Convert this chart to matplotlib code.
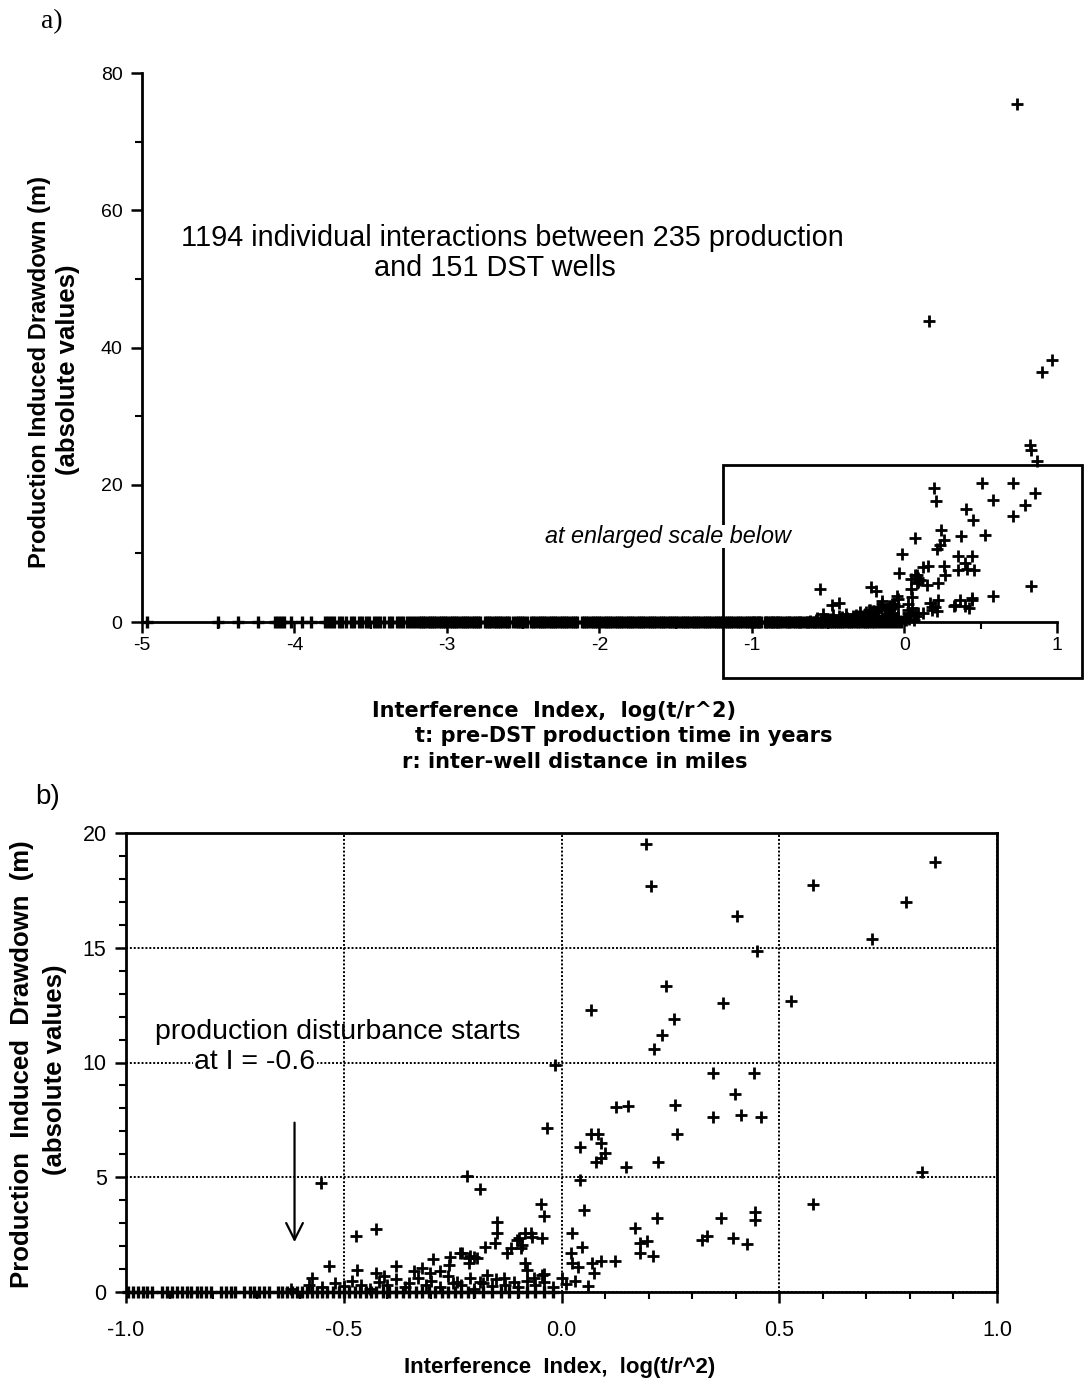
import numpy as np
import matplotlib
matplotlib.use('Agg')
import matplotlib.pyplot as plt
from matplotlib.patches import Rectangle
from matplotlib.ticker import MultipleLocator

# interactions with no measurable drawdown (drawdown = 0)
zero_index = [
    # sparse tail
    -4.97, -4.50, -4.37, -4.24, -4.13, -4.11, -4.09, -4.07, -4.02, -3.95,
    -3.89, -3.80, -3.78, -3.76, -3.74, -3.71, -3.69, -3.66, -3.63, -3.61,
    -3.58, -3.56, -3.53, -3.51, -3.48, -3.46, -3.44, -3.41, -3.38, -3.36,
    -3.33, -3.31, -3.29, -3.26, -3.24, -3.22,
    # dense band
    -3.200, -3.186, -3.171, -3.158, -3.142, -3.127, -3.113, -3.098, -3.084,
    -3.069, -3.055, -3.041, -3.026, -3.012, -2.997, -2.983, -2.968, -2.954,
    -2.940, -2.925, -2.911, -2.896, -2.882, -2.867, -2.853, -2.839, -2.824,
    -2.810, -2.795, -2.781, -2.752, -2.738, -2.723, -2.709, -2.694, -2.680,
    -2.665, -2.651, -2.637, -2.622, -2.608, -2.593, -2.564, -2.550, -2.536,
    -2.521, -2.507, -2.492, -2.478, -2.449, -2.435, -2.420, -2.406, -2.391,
    -2.377, -2.362, -2.348, -2.334, -2.319, -2.305, -2.290, -2.276, -2.261,
    -2.247, -2.233, -2.218, -2.204, -2.189, -2.175, -2.160, -2.146, -2.117,
    -2.103, -2.088, -2.074, -2.059, -2.045, -2.031, -2.016, -2.002, -1.987,
    -1.973, -1.958, -1.944, -1.930, -1.915, -1.901, -1.886, -1.872, -1.857,
    -1.843, -1.829, -1.814, -1.800, -1.785, -1.771, -1.756, -1.742, -1.728,
    -1.713, -1.699, -1.684, -1.670, -1.655, -1.641, -1.627, -1.612, -1.598,
    -1.583, -1.569, -1.554, -1.540, -1.526, -1.511, -1.497, -1.482, -1.468,
    -1.453, -1.439, -1.425, -1.410, -1.396, -1.381, -1.367, -1.352, -1.338,
    -1.324, -1.309, -1.295, -1.280, -1.266, -1.251, -1.237, -1.223, -1.208,
    -1.194, -1.179, -1.165, -1.150, -1.136, -1.122, -1.107, -1.093, -1.078,
    -1.064, -1.049, -1.035, -1.021, -1.006,
    # range shown in panel b
    -0.996, -0.985, -0.972, -0.962, -0.951, -0.940, -0.918, -0.906, -0.895,
    -0.884, -0.872, -0.861, -0.850, -0.838, -0.827, -0.816, -0.804, -0.782,
    -0.771, -0.760, -0.749, -0.728, -0.716, -0.705, -0.694, -0.682, -0.671,
    -0.652, -0.641, -0.630, -0.618, -0.607, -0.596, -0.585, -0.573, -0.562,
    -0.550, -0.538, -0.525, -0.512, -0.500, -0.488, -0.475, -0.462, -0.450,
    -0.437, -0.425, -0.410, -0.395, -0.380, -0.365, -0.350, -0.335, -0.320,
    -0.305, -0.290, -0.275, -0.260, -0.245, -0.230, -0.215, -0.200, -0.180,
    -0.160, -0.140, -0.120, -0.100, -0.080, -0.060, -0.040, -0.020,
]

# small drawdowns just above zero
low_index = [-0.62, -0.58, -0.55, -0.52, -0.50, -0.48, -0.46, -0.44, -0.42,
             -0.40, -0.38, -0.36, -0.35, -0.33, -0.31, -0.30, -0.28, -0.26,
             -0.25, -0.23, -0.21, -0.20, -0.18, -0.16, -0.15, -0.13, -0.11,
             -0.10, -0.08, -0.06, -0.04, -0.02, 0.01, 0.03, 0.06]
low_drawdown = [0.15, 0.30, 0.20, 0.40, 0.25, 0.50, 0.30, 0.15, 0.45,
                0.30, 0.55, 0.20, 0.40, 0.60, 0.30, 0.50, 0.20, 0.70,
                0.40, 0.30, 0.60, 0.15, 0.40, 0.25, 0.55, 0.30, 0.45,
                0.20, 0.50, 0.30, 0.45, 0.20, 0.35, 0.50, 0.25]

# interactions with clear drawdown (0 - 20 m)
scatter_index = [
    0.194, 0.206, 0.402, 0.449, 0.578, 0.857, 0.792, 0.714,
    0.241, 0.067, 0.371, 0.526, 0.258, 0.231, 0.213, -0.016,
    0.348, 0.442, 0.398, 0.348, 0.413, 0.459, 0.124, 0.152, 0.260,
    0.266, -0.033, 0.042, 0.068, 0.083, 0.090, 0.099, 0.080, 0.090,
    0.147, 0.222, 0.827, 0.578, 0.051, 0.220, 0.367, 0.445, 0.445,
    0.168, 0.197, 0.181, 0.180, 0.210, 0.323, 0.333, 0.394, 0.426,
    0.023, 0.046, 0.021, 0.025, 0.038, 0.070, 0.074, 0.090, 0.122, 0.000,
    0.042,
    -0.047, -0.041, -0.071, -0.044, -0.083, -0.064, -0.041,
    -0.553, -0.217, -0.188, -0.473, -0.427, -0.534, -0.148, -0.149,
    -0.175, -0.152, -0.125, -0.117, -0.103, -0.090, -0.083, -0.067,
    -0.295, -0.255, -0.228, -0.213, -0.201, -0.381, -0.469, -0.427,
    -0.572, -0.408, -0.339, -0.320, -0.301, -0.278, -0.259, -0.232,
    -0.209, -0.194, -0.213, -0.098, -0.094, -0.079, -0.044, -0.133,
    -0.171, -0.186, -0.240,
]
scatter_drawdown = [
    19.50, 17.70, 16.40, 14.85, 17.75, 18.74, 17.00, 15.40,
    13.35, 12.30, 12.60, 12.70, 11.90, 11.20, 10.60, 9.90,
    9.56, 9.56, 8.62, 7.62, 7.70, 7.62, 8.05, 8.10, 8.13,
    6.88, 7.13, 6.30, 6.87, 6.87, 6.48, 6.05, 5.68, 5.82,
    5.46, 5.68, 5.22, 3.82, 3.58, 3.24, 3.24, 3.50, 3.14,
    2.78, 2.22, 2.12, 1.72, 1.55, 2.27, 2.44, 2.34, 2.09,
    2.56, 1.98, 1.72, 1.25, 1.08, 1.25, 0.82, 1.37, 1.35, 0.62,
    4.88,
    3.82, 3.29, 2.56, 2.34, 1.25, 0.60, 0.78,
    4.77, 5.06, 4.48, 2.44, 2.73, 1.13, 3.07, 2.56,
    1.98, 2.15, 1.68, 1.90, 2.27, 2.05, 2.56, 2.38,
    1.42, 1.51, 1.68, 1.47, 1.54, 1.13, 0.96, 0.82,
    0.60, 0.70, 0.93, 1.03, 0.82, 0.93, 1.18, 1.68,
    1.57, 1.47, 1.25, 2.34, 1.90, 0.96, 0.74, 0.60,
    0.74, 0.45, 0.45,
]

# large drawdowns, only visible in the full-range panel
outlier_index = [0.74, 0.16, 0.97, 0.90, 0.82, 0.83, 0.866, 0.505, 0.713]
outlier_drawdown = [75.5, 43.8, 38.2, 36.5, 25.8, 25.1, 23.4, 20.3, 20.2]

a_xticks = [-5, -4, -3, -2, -1, 0, 1]
a_yticks = [0, 20, 40, 60, 80]
b_xticks = [-1.0, -0.5, 0.0, 0.5, 1.0]
b_xticklabels = ['-1.0', '-0.5', '0.0', '0.5', '1.0']
b_yticks = [0, 5, 10, 15, 20]

W, H = 1086, 1395


def fx(px):
    return px / W


def fy(py):
    return 1 - py / H


def plot_points(ax, x, y, clip=True, xmin=None, mew=2.0):
    x = np.asarray(x, dtype=float)
    y = np.asarray(y, dtype=float)
    if xmin is not None:
        keep = x >= xmin
        x, y = x[keep], y[keep]
    ax.plot(x, y, ls='none', marker='+', ms=9, mew=mew, color='k',
            clip_on=clip, zorder=3)


def panel_a(fig):
    ax = fig.add_axes([fx(142), fy(622), fx(1057 - 142), (622 - 73) / H])

    plot_points(ax, zero_index, np.zeros(len(zero_index)), clip=False, mew=2.4)
    plot_points(ax, low_index, low_drawdown, clip=False)
    plot_points(ax, scatter_index, scatter_drawdown, clip=False)
    plot_points(ax, outlier_index, outlier_drawdown, clip=False)

    ax.set_xlim(-5, 1)
    ax.set_ylim(0, 80)
    ax.set_xticks(a_xticks)
    ax.set_xticklabels(['{}'.format(t) for t in a_xticks])
    ax.set_yticks(a_yticks)
    ax.xaxis.set_minor_locator(MultipleLocator(0.5))
    ax.yaxis.set_minor_locator(MultipleLocator(10))

    for s in ['top', 'right']:
        ax.spines[s].set_visible(False)
    for s in ['left', 'bottom']:
        ax.spines[s].set_linewidth(2)

    ax.tick_params(which='major', direction='out', length=8, width=1.8,
                   labelsize=14)
    ax.tick_params(axis='x', pad=3)
    ax.tick_params(axis='y', pad=6)
    ax.tick_params(which='minor', direction='out', length=5, width=1.5)

    # box marking the range that is enlarged in panel b
    rect = Rectangle((-1.187, -8.2), 2.35, 31.1, fill=False, lw=2,
                     edgecolor='k', clip_on=False, zorder=2)
    ax.add_patch(rect)
    ax.text(-1.55, 12.5, 'at enlarged scale below', style='italic',
            fontsize=16.8, ha='center', va='center', zorder=4,
            bbox=dict(facecolor='white', edgecolor='none', pad=0))

    fig.text(fx(512), fy(238), '1194 individual interactions between 235 production',
             fontsize=20.8, ha='center', va='center')
    fig.text(fx(495), fy(268), 'and 151 DST wells',
             fontsize=20.8, ha='center', va='center')

    fig.text(fx(40), fy(372), 'Production Induced Drawdown (m)', rotation=90,
             fontsize=17, fontweight='bold', ha='center', va='center')
    fig.text(fx(68), fy(370), '(absolute values)', rotation=90,
             fontsize=18.5, fontweight='bold', ha='center', va='center')

    # three-line axis caption, wide bold face with low letters
    cap = dict(fontsize=15, fontweight='bold', family='DejaVu Sans',
               ha='left', va='center')
    fig.text(fx(372), fy(711), 'Interference  Index,  log(t/r^2)', **cap)
    fig.text(fx(415), fy(736), 't: pre-DST production time in years', **cap)
    fig.text(fx(402), fy(762), 'r: inter-well distance in miles', **cap)

    fig.text(fx(52), fy(22), 'a)', fontsize=20, family='Liberation Serif',
             ha='center', va='center')


def panel_b(fig):
    ax = fig.add_axes([fx(126), fy(1292), fx(997 - 126), (1292 - 833) / H])

    plot_points(ax, zero_index, np.zeros(len(zero_index)), clip=False,
                xmin=-1.0, mew=2.4)
    plot_points(ax, low_index, low_drawdown, clip=False, xmin=-1.0)
    plot_points(ax, scatter_index, scatter_drawdown, clip=True)

    ax.set_xlim(-1, 1)
    ax.set_ylim(0, 20)
    ax.set_xticks(b_xticks)
    ax.set_xticklabels(b_xticklabels)
    ax.set_yticks(b_yticks)
    ax.xaxis.set_minor_locator(MultipleLocator(0.1))
    ax.yaxis.set_minor_locator(MultipleLocator(1))

    ax.grid(True, which='major', color='k', ls=(0, (1, 1)), lw=1.4)
    for s in ax.spines.values():
        s.set_linewidth(2)

    ax.tick_params(which='major', direction='out', length=8, width=1.8,
                   labelsize=15.5, pad=12)
    ax.tick_params(axis='y', pad=6)
    ax.tick_params(which='minor', direction='out', length=5, width=1.5)

    # onset of production disturbance
    ax.annotate('', xy=(-0.613, 2.05), xytext=(-0.613, 7.5),
                arrowprops=dict(arrowstyle='->', lw=1.6, color='k',
                                mutation_scale=30))

    fig.text(fx(338), fy(1032), 'production disturbance starts',
             fontsize=20.5, ha='center', va='center')
    fig.text(fx(255), fy(1062), 'at I = -0.6', fontsize=20.5,
             ha='center', va='center', zorder=5,
             bbox=dict(facecolor='white', edgecolor='none', pad=1))

    fig.text(fx(22), fy(1064), 'Production  Induced  Drawdown  (m)', rotation=90,
             fontsize=18.5, fontweight='bold', ha='center', va='center')
    fig.text(fx(55), fy(1070), '(absolute values)', rotation=90,
             fontsize=18.5, fontweight='bold', ha='center', va='center')

    fig.text(fx(560), fy(1368), 'Interference  Index,  log(t/r^2)',
             fontsize=16, fontweight='bold', ha='center', va='center')

    fig.text(fx(48), fy(797), 'b)', fontsize=20, ha='center', va='center')


def main():
    plt.rcParams['font.family'] = ['Liberation Sans', 'DejaVu Sans']

    fig = plt.figure(figsize=(W / 100, H / 100), dpi=100)
    panel_a(fig)
    panel_b(fig)

    fig.savefig('out.png', dpi=100, facecolor='white')


if __name__ == '__main__':
    main()
